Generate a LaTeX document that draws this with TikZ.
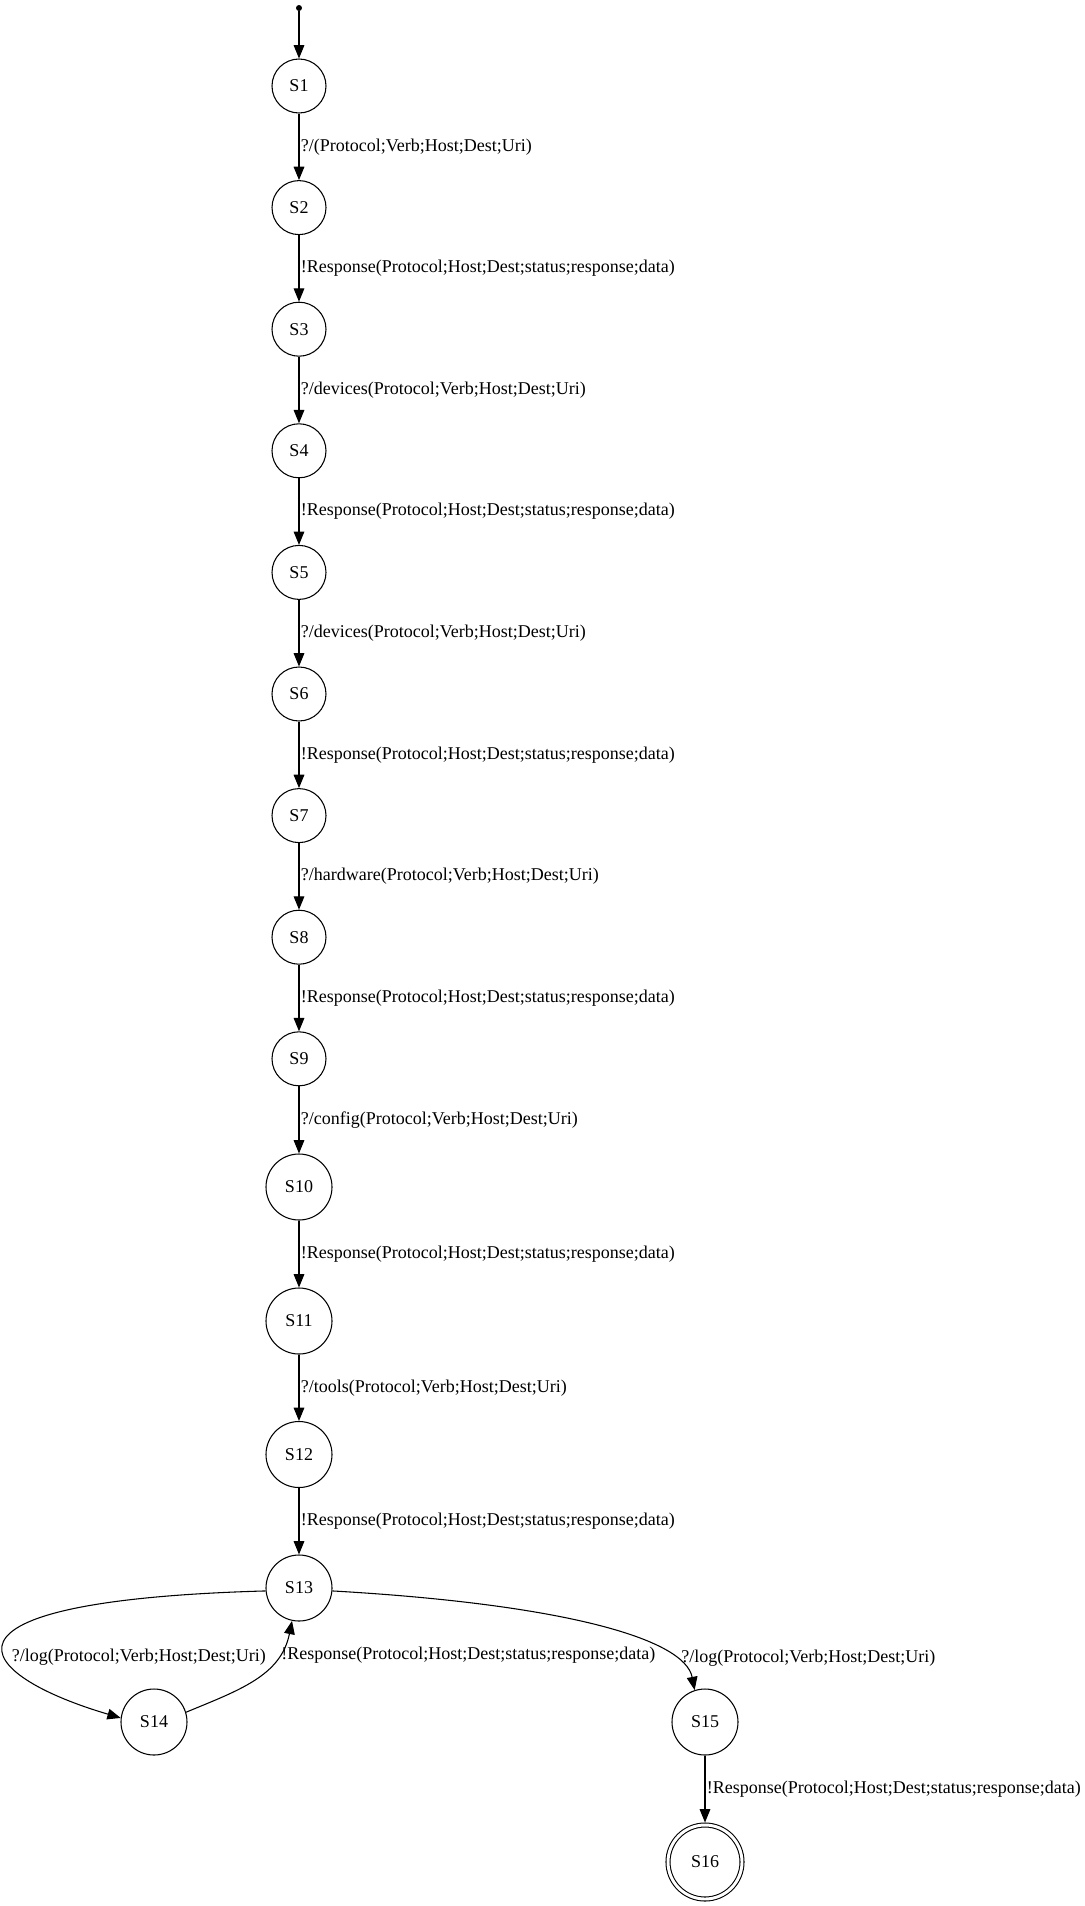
\documentclass[tikz,border=0pt]{standalone}
\usepackage{fontspec}
\setmainfont{Liberation Serif}
\usepackage{tikz}
\usetikzlibrary{arrows.meta,positioning}

\begin{document}
\begin{tikzpicture}[
  x=0.75pt, y=-0.75pt,
  state/.style={
    circle, draw, line width=0.8pt, inner sep=0pt, minimum size=40.5pt,
    font=\fontsize{13.5}{16}\selectfont
  },
  bigstate/.style={state, minimum size=49.5pt},
  final/.style={state, minimum size=55.5pt, double, double distance=2.2pt,
                outer sep=1.9pt},
  init/.style={circle, fill, inner sep=0pt, minimum size=4.5pt},
  edge/.style={-{Triangle[length=10pt,width=8pt]}, line width=0.8pt},
  edgelbl/.style={font=\fontsize{13.5}{16}\selectfont, inner sep=1pt}
]
\useasboundingbox (0,0) rectangle (1085,1906);
\node[init] (start) at (299,8) {};
\node[state] (S1) at (299,86) {S1};
\node[state] (S2) at (299,207.6) {S2};
\node[state] (S3) at (299,329.2) {S3};
\node[state] (S4) at (299,450.8) {S4};
\node[state] (S5) at (299,572.4) {S5};
\node[state] (S6) at (299,694) {S6};
\node[state] (S7) at (299,815.6) {S7};
\node[state] (S8) at (299,937.2) {S8};
\node[state] (S9) at (299,1058.8) {S9};
\node[bigstate] (S10) at (299,1187) {S10};
\node[bigstate] (S11) at (299,1321) {S11};
\node[bigstate] (S12) at (299,1454.5) {S12};
\node[bigstate] (S13) at (299,1588) {S13};
\node[bigstate] (S14) at (154,1722) {S14};
\node[bigstate] (S15) at (705,1722) {S15};
\node[final] (S16) at (705,1862) {S16};
\draw[edge] (start) -- (S1);
\draw[edge] (S1) -- node[edgelbl, right=0pt] {?/(Protocol;Verb;Host;Dest;Uri)} (S2);
\draw[edge] (S2) -- node[edgelbl, right=0pt]
  {!Response(Protocol;Host;Dest;status;response;data)} (S3);
\draw[edge] (S3) -- node[edgelbl, right=0pt] {?/devices(Protocol;Verb;Host;Dest;Uri)} (S4);
\draw[edge] (S4) -- node[edgelbl, right=0pt]
  {!Response(Protocol;Host;Dest;status;response;data)} (S5);
\draw[edge] (S5) -- node[edgelbl, right=0pt] {?/devices(Protocol;Verb;Host;Dest;Uri)} (S6);
\draw[edge] (S6) -- node[edgelbl, right=0pt]
  {!Response(Protocol;Host;Dest;status;response;data)} (S7);
\draw[edge] (S7) -- node[edgelbl, right=0pt] {?/hardware(Protocol;Verb;Host;Dest;Uri)} (S8);
\draw[edge] (S8) -- node[edgelbl, right=0pt]
  {!Response(Protocol;Host;Dest;status;response;data)} (S9);
\draw[edge] (S9) -- node[edgelbl, right=0pt] {?/config(Protocol;Verb;Host;Dest;Uri)} (S10);
\draw[edge] (S10) -- node[edgelbl, right=0pt]
  {!Response(Protocol;Host;Dest;status;response;data)} (S11);
\draw[edge] (S11) -- node[edgelbl, right=0pt] {?/tools(Protocol;Verb;Host;Dest;Uri)} (S12);
\draw[edge] (S12) -- node[edgelbl, right=0pt]
  {!Response(Protocol;Host;Dest;status;response;data)} (S13);
\draw[edge] (S13.185) .. controls +(-356,10) and +(-146,-43) ..
  node[edgelbl, pos=0.6, right=3pt] {?/log(Protocol;Verb;Host;Dest;Uri)} (S14.173);
\draw[edge] (S14.17) .. controls +(53,-22) and +(-11,55) ..
  node[edgelbl, pos=0.75, right=1pt]
  {!Response(Protocol;Host;Dest;status;response;data)} (S13.258);
\draw[edge] (S13.355) .. controls +(228,13) and +(-10,-52) ..
  node[edgelbl, pos=0.78, right=6pt] {?/log(Protocol;Verb;Host;Dest;Uri)} (S15.108);
\draw[edge] (S15) -- node[edgelbl, right=0pt]
  {!Response(Protocol;Host;Dest;status;response;data)} (S16);
\end{tikzpicture}
\end{document}
